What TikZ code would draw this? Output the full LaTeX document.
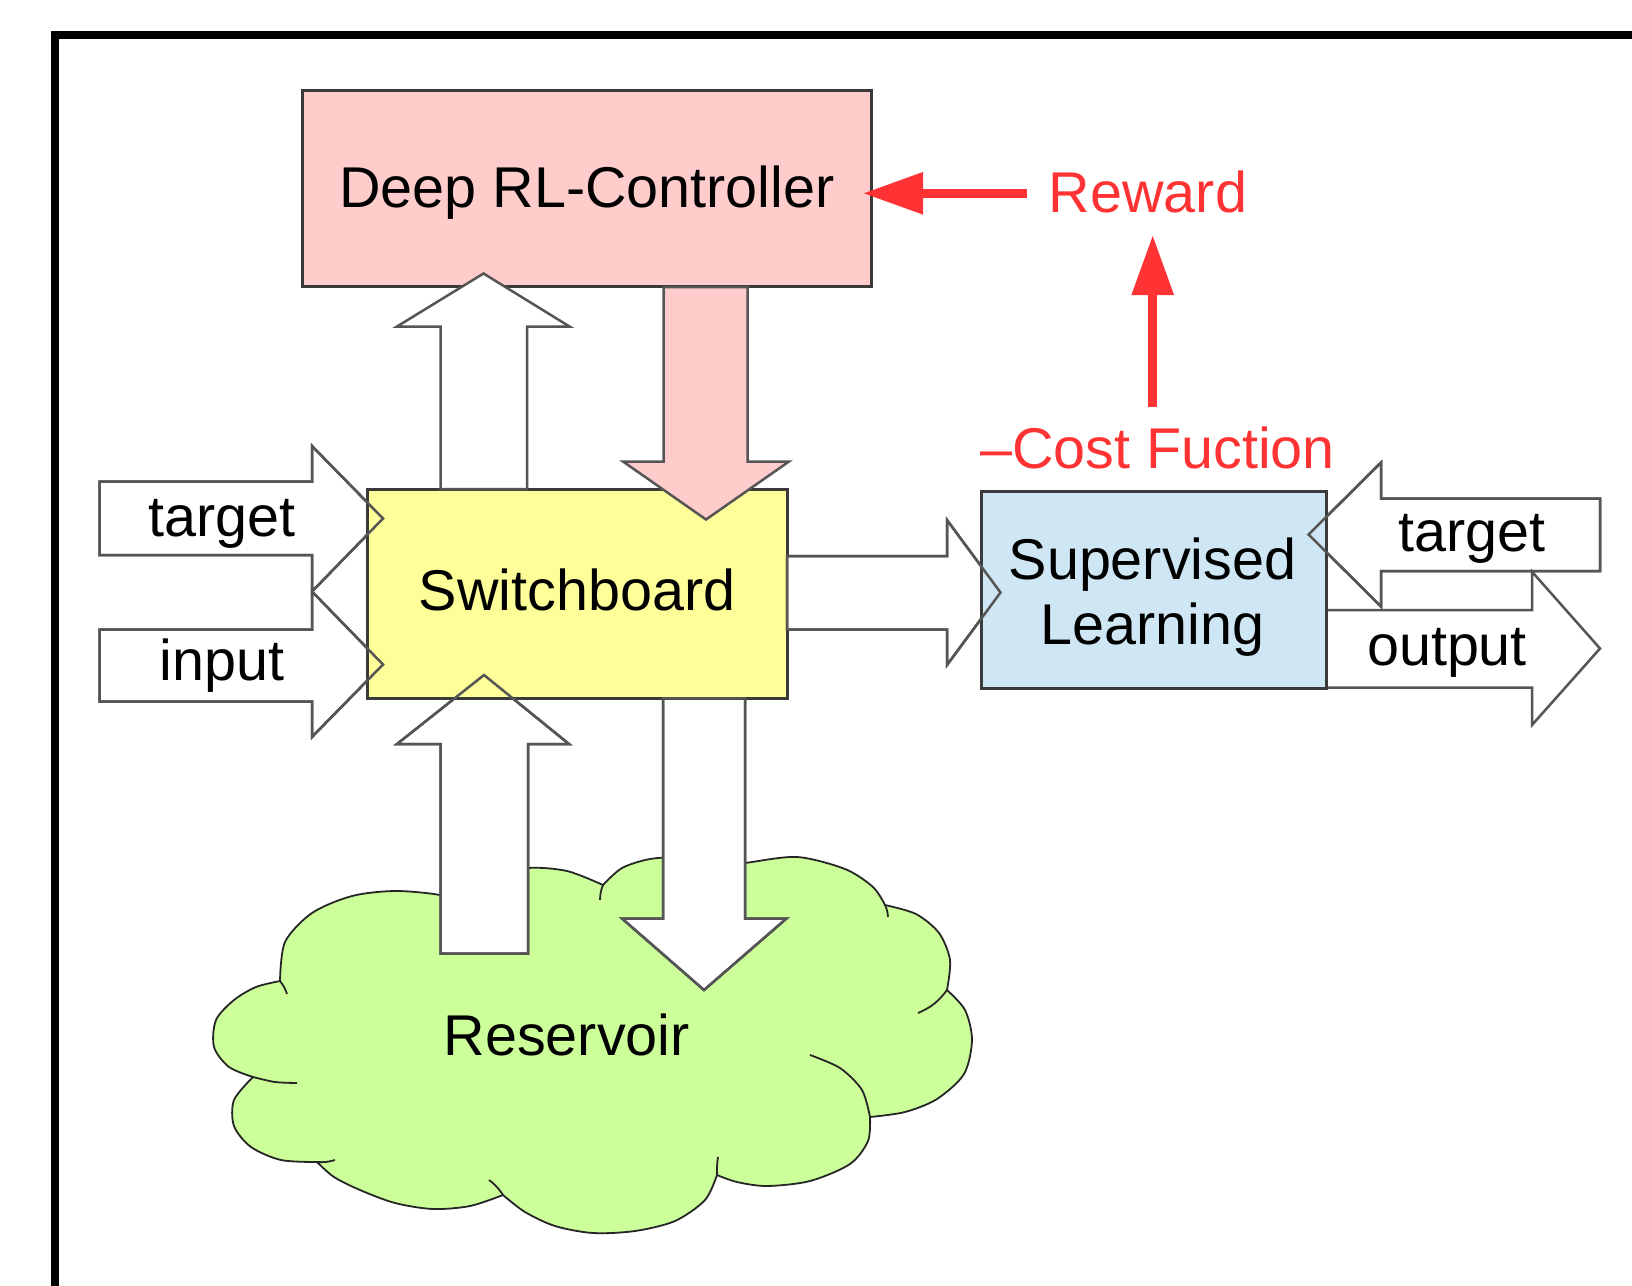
\documentclass[tikz,border=0pt]{standalone}
\usepackage{fontspec}
\setmainfont{Liberation Sans}
\usetikzlibrary{arrows.meta}
\definecolor{pinkfill}{HTML}{FFCCCC}
\definecolor{yellowfill}{HTML}{FFFF99}
\definecolor{bluefill}{HTML}{CFE6F4}
\definecolor{cloudfill}{HTML}{CCFF99}
\definecolor{redline}{HTML}{FF3333}
\definecolor{boxline}{HTML}{3A3A3A}
\definecolor{arrowline}{HTML}{555555}
\newcommand{\diagfont}{\fontsize{57.5pt}{65pt}\selectfont}
\tikzset{
  box/.style={draw=boxline, line width=3pt, inner sep=0pt, font=\diagfont},
  blockarrow/.style={draw=arrowline, line width=2.5pt, line join=miter, fill=white},
  blockoutline/.style={draw=arrowline, line width=2.5pt, line join=miter},
  redarrow/.style={draw=redline, line width=9pt, -{Triangle[length=60pt,width=40pt]}},
  lbl/.style={font=\diagfont, inner sep=0pt, anchor=base},
  redlbl/.style={lbl, text=redline},
  cloudline/.style={draw=black!85, line width=1.8pt},
}
% block arrow outlines (y axis points down)
\def\pathResUp{(440.5,953.5) -- (440.5,744) -- (397,744) -- (484,675) -- (569,744) -- (528,744) -- (528,953.5) -- cycle}
\def\pathResDn{(663,698.3) -- (663,918.5) -- (622,918.5) -- (704,990) -- (786.5,918.5) -- (745,918.5) -- (745,698.3) -- cycle}
\def\pathTgtL{(99.5,481.5) -- (312,481.5) -- (312,446) -- (383,518.5) -- (312,591.5) -- (312,555) -- (99.5,555) -- cycle}
\def\pathInp{(99.5,629.5) -- (312,629.5) -- (312,591.5) -- (383,664.5) -- (312,737) -- (312,701.5) -- (99.5,701.5) -- cycle}
\def\pathUpDRL{(440.5,489) -- (440.5,326.5) -- (397,326.5) -- (483.5,273.5) -- (569.5,326.5) -- (527,326.5) -- (527,489) -- cycle}
\def\pathPink{(663.5,287) -- (663.5,461.5) -- (623,461.5) -- (706,519.5) -- (789,461.5) -- (747.5,461.5) -- (747.5,287) -- cycle}
\def\pathToSL{(787,556) -- (947,556) -- (947,520) -- (1000.5,592.5) -- (947,665) -- (947,629.5) -- (787,629.5) -- cycle}
\def\pathTgtR{(1600,498.5) -- (1381,498.5) -- (1381,462.5) -- (1308.5,534.5) -- (1381,606.5) -- (1381,571) -- (1600,571) -- cycle}
\def\pathOut{(1326,610) -- (1532,610) -- (1532,571.7) -- (1600,648.5) -- (1532,725) -- (1532,687.5) -- (1326,687.5) -- cycle}
\begin{document}
\begin{tikzpicture}[x=1pt,y=-1pt]
\useasboundingbox (0,0) rectangle (1632,1285);
\fill[white] (0,0) rectangle (1632,1285);
% outer frame
\draw[line width=8pt, line join=miter] (54.5,1300) -- (54.5,35) -- (1645,35);
% reservoir cloud
\path[fill=cloudfill, cloudline]
  plot[smooth] coordinates {(280,981) (285,942) (312,913) (352,896) (395,891) (440,895) (470,905)}
  -- plot[smooth] coordinates {(470,905) (495,878) (528,868) (567,871) (603,885)}
  -- plot[smooth] coordinates {(603,885) (622,868) (650,859) (680,858) (705,868)}
  -- plot[smooth] coordinates {(705,868) (745,863) (797,857) (845,869) (873,887) (885,905)}
  -- plot[smooth] coordinates {(885,905) (916,914) (939,933) (950,960) (947,990)}
  -- plot[smooth] coordinates {(947,990) (965,1010) (972,1040) (964,1074) (937,1099) (905,1112) (870,1117)}
  -- plot[smooth] coordinates {(870,1117) (868,1141) (850,1164) (810,1181) (767,1186) (737,1182) (717,1175)}
  -- plot[smooth] coordinates {(717,1175) (705,1200) (675,1221) (635,1231) (593,1233) (555,1226) (525,1212) (503,1195)}
  -- plot[smooth] coordinates {(503,1195) (470,1206) (433,1209) (395,1203) (360,1190) (334,1177) (317,1162)}
  -- plot[smooth] coordinates {(317,1162) (281,1160) (251,1147) (234,1126) (234,1100) (253,1077)}
  -- plot[smooth] coordinates {(253,1077) (229,1067) (214,1047) (216,1020) (234,1000) (256,987) (280,981)}
  -- cycle;
\draw[cloudline] (280,981) to[bend left=10] (287,994);
\draw[cloudline] (603,885) to[bend right=10] (600,900);
\draw[cloudline] (885,905) to[bend left=10] (888,917);
\draw[cloudline] (947,990) to[bend left=15] (918,1013);
\draw[cloudline] plot[smooth] coordinates {(870,1117) (862,1090) (840,1068) (810,1055)};
\draw[cloudline] (717,1175) to[bend left=5] (718,1157);
\draw[cloudline] (503,1195) to[bend right=10] (489,1180);
\draw[cloudline] (317,1162) to[bend right=10] (335,1160);
\draw[cloudline] plot[smooth] coordinates {(253,1077) (275,1082) (297,1083)};
\node[lbl] (reservoir) at (566.7,1055) {Reservoir};
% arrows around the switchboard (white fill)
\path[blockarrow] \pathResUp;
\path[blockarrow] \pathResDn;
\path[blockarrow] \pathTgtL;
\path[blockarrow] \pathInp;
% switchboard
\node[box, fill=yellowfill, minimum width=420pt, minimum height=209.3pt,
      text height=41pt, text depth=8.3pt] (switch) at (577,593.65) {Switchboard};
\path[blockoutline] \pathResUp;
\path[blockoutline] \pathResDn;
\path[blockoutline] \pathTgtL;
\path[blockoutline] \pathInp;
\node[lbl] (tgtl) at (222.3,536) {target};
\node[lbl] (inp) at (222.3,680) {input};
% deep RL controller
\node[box, fill=pinkfill, minimum width=569pt, minimum height=196.5pt,
      text height=41pt, text depth=3pt] (deeprl) at (587,188.25) {Deep RL-Controller};
\path[blockarrow, fill=pinkfill] \pathPink;
\path[blockarrow] \pathUpDRL;
% supervised learning
\path[blockarrow] \pathToSL;
\path[blockarrow] \pathTgtR;
\path[blockarrow] \pathOut;
\node[box, fill=bluefill, minimum width=344.5pt, minimum height=197pt] (sl) at (1153.75,590) {};
\node[font=\diagfont, inner sep=0pt, align=center] (sltext) at (1152.5,597) {Supervised\\Learning};
\path[blockoutline] \pathToSL;
\path[blockoutline] \pathTgtR;
\node[lbl] (tgtr) at (1471.6,551.7) {target};
\node[lbl] (outp) at (1447,665) {output};
% reward path
\node[redlbl] (reward) at (1148,212.7) {Reward};
\node[redlbl] (cost) at (1157.5,468.3) {–Cost Fuction};
\coordinate (rwtail) at (1026.7,193.3);
\coordinate (costtop) at (1152.7,406.7);
\coordinate (rwbottom) at (1152.7,235);
\draw[redarrow, shorten >=-10pt] (rwtail) -- (rwtail -| deeprl.east);
\draw[redarrow] (costtop) -- (rwbottom);
\end{tikzpicture}
\end{document}
